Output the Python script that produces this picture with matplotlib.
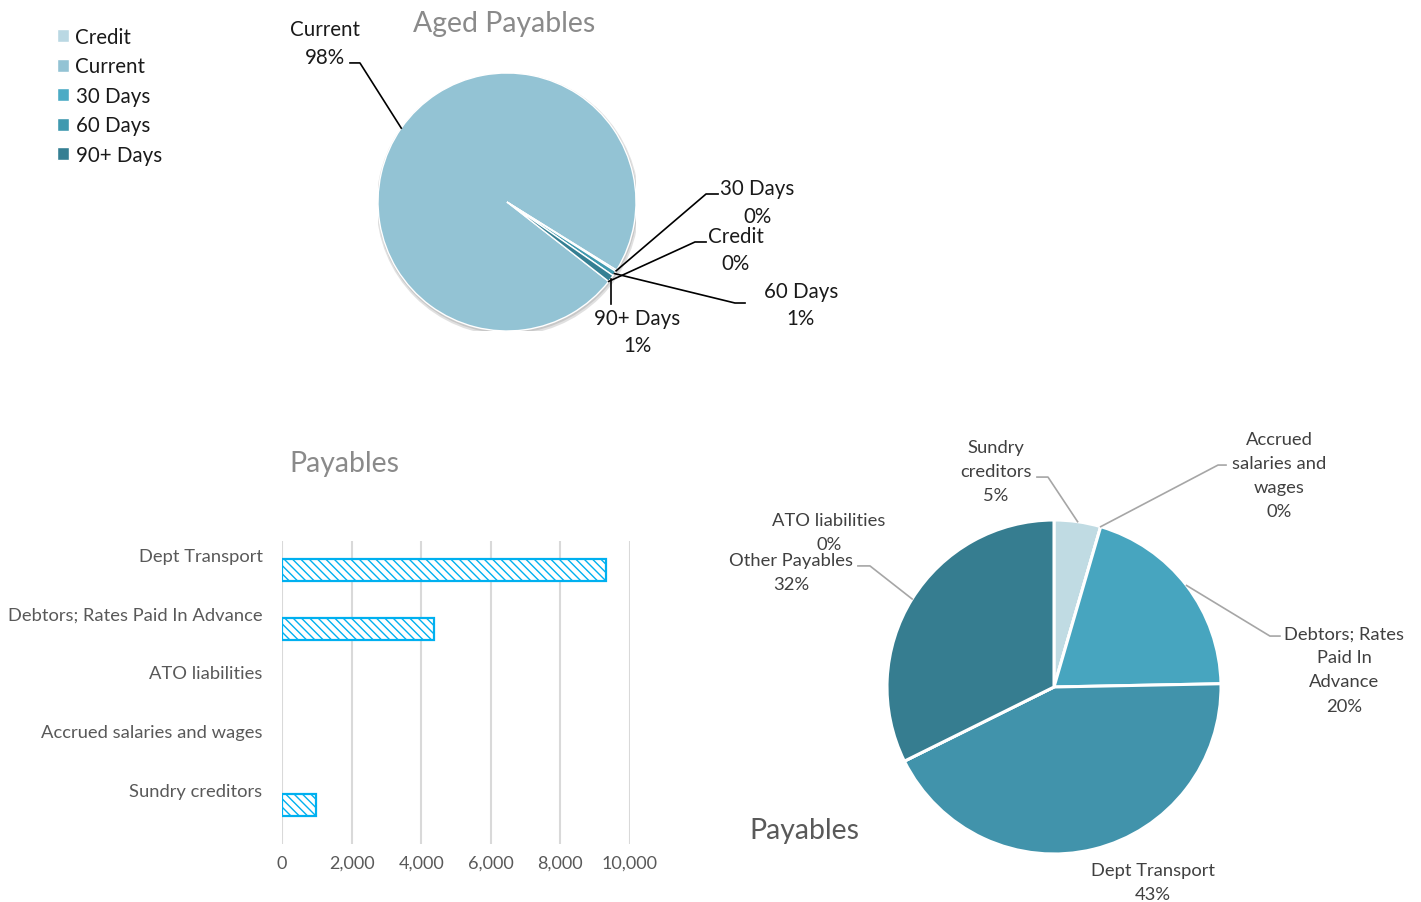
import matplotlib
matplotlib.use("Agg")
import matplotlib.pyplot as plt
from matplotlib.patches import Circle
from matplotlib.ticker import FuncFormatter
import numpy as np

W, H = 1421, 903
plt.rcParams["font.family"] = ["Lato", "DejaVu Sans"]
plt.rcParams["hatch.linewidth"] = 1.0

# ---- data -------------------------------------------------------------
aged_labels = ["Credit", "Current", "30 Days", "60 Days", "90+ Days"]
aged_values = [0.0, 98.3, 0.2, 0.6, 0.9]
aged_colors = ["#bad8e3", "#93c3d4", "#4babc5", "#3f99af", "#357f93"]

bar_categories = ["Dept Transport", "Debtors; Rates Paid In Advance",
                  "ATO liabilities", "Accrued salaries and wages",
                  "Sundry creditors"]
bar_values = [9310, 4370, 0, 0, 977]
bar_ticks = [0, 2000, 4000, 6000, 8000, 10000]

pie_labels = ["Sundry creditors", "Accrued salaries and wages",
              "Debtors; Rates Paid In Advance", "Dept Transport",
              "ATO liabilities", "Other Payables"]
pie_display = ["Sundry\ncreditors", "Accrued\nsalaries and\nwages",
               "Debtors; Rates\nPaid In\nAdvance", "Dept Transport",
               "ATO liabilities", "Other Payables"]
pie_values = [977, 0, 4370, 9310, 0, 7000]
pie_colors = ["#c0dbe3", "#93c3d4", "#47a5bf", "#4193ab", "#3a889c", "#367d90"]

fig = plt.figure(figsize=(W / 100, H / 100), dpi=100)


def pie_axes(cx, cy, r):
    """Square axes holding a unit-radius pie centred at pixel (cx, cy)."""
    ax = fig.add_axes([(cx - r) / W, 1 - (cy + r) / H, 2 * r / W, 2 * r / H])
    return ax


def pct_text(values):
    total = float(sum(values))
    return [f"{round(v / total * 100):.0f}%" for v in values]


def mid_point(w):
    a = np.deg2rad((w.theta1 + w.theta2) / 2.0)
    return np.cos(a) * w.r, np.sin(a) * w.r


# ---- Aged Payables pie ------------------------------------------------
ax1 = pie_axes(507, 203, 129)
ax1.add_patch(Circle((0.006, -0.018), 1.018, color="#c8c8c8", alpha=0.55, zorder=0, lw=0))
ax1.add_patch(Circle((0.004, -0.012), 1.008, color="#b0b0b0", alpha=0.5, zorder=0, lw=0))
wedges1, _ = ax1.pie(aged_values, colors=aged_colors, startangle=-38,
                     counterclock=False, radius=1,
                     wedgeprops=dict(edgecolor="white", linewidth=1.0))
ax1.set_xlim(-1, 1)
ax1.set_ylim(-1, 1)
ax1.set_aspect("equal")
ax1.axis("off")

aged_pct = pct_text(aged_values)
# text centre and leader elbow for each slice label (pie radius units)
aged_text_xy = [(1.775, -0.368), (-1.411, 1.232), (1.938, 0.000),
                (2.279, -0.795), (1.008, -1.004)]
aged_elbow = [[(1.457, -0.310), (1.543, -0.310)],
              [(-1.140, 1.078), (-1.217, 1.078)],
              [(1.543, 0.062), (1.636, 0.062)],
              [(1.767, -0.783), (1.845, -0.783)],
              [None]]
for w, lab, pct, txy, elb in zip(wedges1, aged_labels, aged_pct, aged_text_xy, aged_elbow):
    mx, my = mid_point(w)
    if elb[0] is None:
        pts = [(mx, my), (mx, -0.79)]
    else:
        pts = [(mx, my)] + elb
    xs, ys = zip(*pts)
    ax1.plot(xs, ys, color="black", lw=1.2, clip_on=False, zorder=3)
    ax1.text(txy[0], txy[1], f"{lab}\n{pct}", ha="center", va="center",
             fontsize=14.8, color="#1a1a1a", linespacing=1.48, clip_on=False)

fig.text(504 / W, 1 - 24 / H, "Aged Payables", ha="center", va="center",
         fontsize=20.4, color="#8a8a8a")

fig.legend(handles=wedges1, labels=aged_labels, loc="upper left",
           bbox_to_anchor=(57 / W, 1 - 28 / H), frameon=False, fontsize=14.8,
           handlelength=0.6, handleheight=0.6, handletextpad=0.3,
           labelspacing=0.46, borderpad=0, borderaxespad=0,
           labelcolor="#1a1a1a")

# ---- Payables bar chart -----------------------------------------------
axb = fig.add_axes([282 / W, 1 - 845 / H, (630 - 282) / W, (845 - 542) / H])
ypos = np.arange(len(bar_categories))
bars = axb.barh(ypos, bar_values, height=0.37, color="white",
                edgecolor="#00b0f0", hatch="\\\\\\\\", linewidth=1.6, zorder=2)
for b, v in zip(bars, bar_values):
    b.set_visible(v > 0)
axb.set_xlim(bar_ticks[0], bar_ticks[-1])
axb.set_ylim(4.66, -0.493)
axb.set_xticks(bar_ticks)
axb.xaxis.set_major_formatter(FuncFormatter(lambda v, _: f"{v:,.0f}"))
axb.set_yticks(ypos - 0.27)
axb.set_yticklabels(bar_categories)
axb.tick_params(axis="y", length=0, pad=14, labelsize=13.2, labelcolor="#595959")
axb.tick_params(axis="x", length=0, pad=8, labelsize=13, labelcolor="#595959")
axb.grid(axis="x", color="#d9d9d9", lw=1.5, zorder=0)
axb.set_axisbelow(True)
for s in axb.spines.values():
    s.set_visible(False)
fig.text(344 / W, 1 - 464 / H, "Payables", ha="center", va="center",
         fontsize=20.4, color="#8a8a8a")

# ---- Payables pie -----------------------------------------------------
ax2 = pie_axes(1054, 688, 167)
wedges2, _ = ax2.pie(pie_values, colors=pie_colors, startangle=90,
                     counterclock=False, radius=1,
                     wedgeprops=dict(edgecolor="white", linewidth=2.2))
ax2.set_xlim(-1, 1)
ax2.set_ylim(-1, 1)
ax2.set_aspect("equal")
ax2.axis("off")

pie_pct = pct_text(pie_values)
pie_text_xy = [(-0.347, 1.293), (1.347, 1.269), (1.737, 0.105),
               (0.593, -1.168), (-1.347, 0.928), (-1.575, 0.689)]
pie_elbow = [[(-0.036, 1.257), (-0.102, 1.257)],
             [(0.982, 1.329), (1.030, 1.329)],
             [(1.293, 0.305), (1.353, 0.305)],
             None, None,
             [(-1.102, 0.725), (-1.174, 0.725)]]
for w, lab, pct, txy, elb in zip(wedges2, pie_display, pie_pct, pie_text_xy, pie_elbow):
    if elb is not None:
        mx, my = mid_point(w)
        xs, ys = zip(*([(mx, my)] + elb))
        ax2.plot(xs, ys, color="#a6a6a6", lw=1.2, clip_on=False, zorder=3)
    ax2.text(txy[0], txy[1], f"{lab}\n{pct}", ha="center", va="center",
             fontsize=13.2, color="#404040", linespacing=1.62, clip_on=False)

fig.text(804 / W, 1 - 831 / H, "Payables", ha="center", va="center",
         fontsize=20.4, color="#595959")

fig.savefig("out.png", dpi=100, facecolor="white")
